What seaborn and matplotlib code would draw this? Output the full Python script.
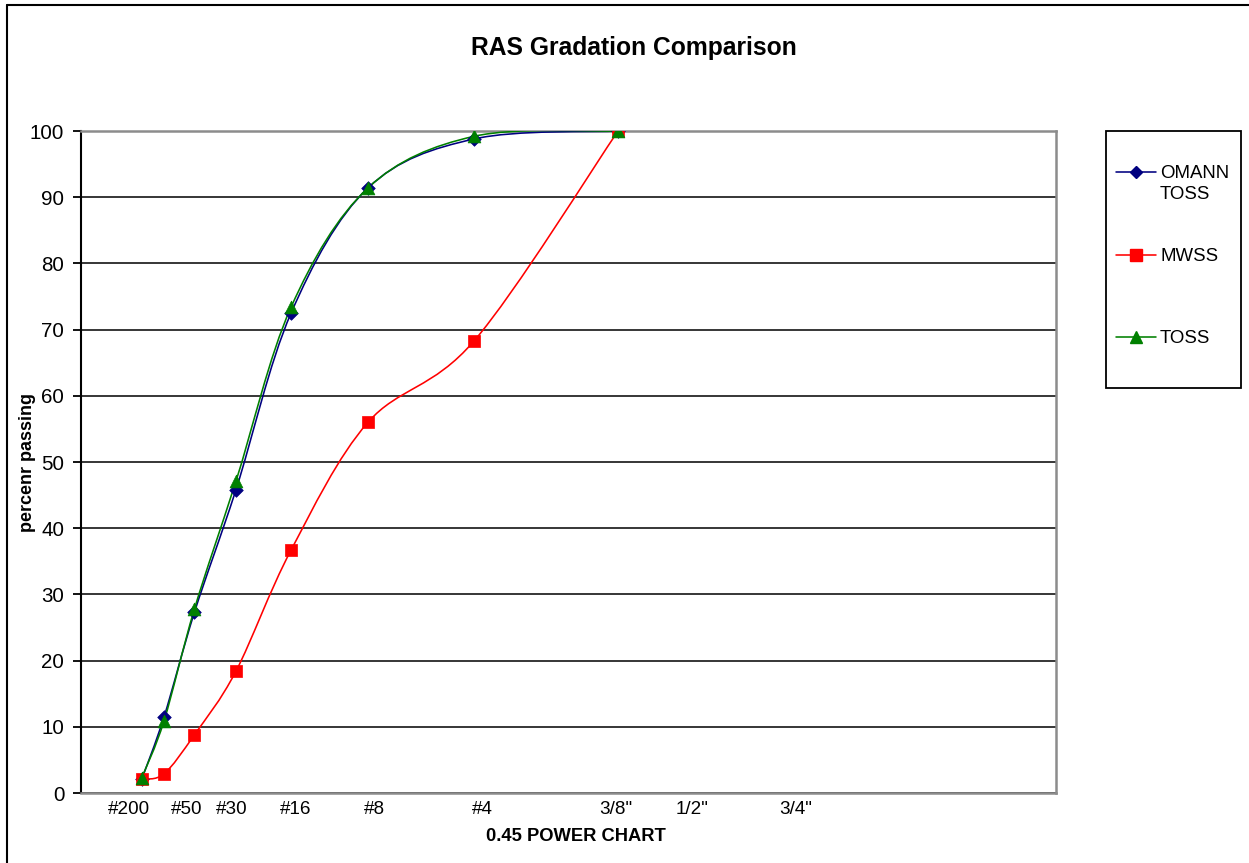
import numpy as np
import pandas as pd
import matplotlib
matplotlib.use("Agg")
import matplotlib.pyplot as plt
from matplotlib.path import Path
from matplotlib.patches import PathPatch, Rectangle
from matplotlib.lines import Line2D
import seaborn as sns

# ---- data ----
sieve_mm = [0.075, 0.15, 0.3, 0.6, 1.18, 2.36, 4.75, 9.5]
omann_toss = [2.1, 11.5, 27.3, 45.8, 72.5, 91.4, 98.8, 100.0]
mwss = [2.1, 2.9, 8.8, 18.4, 36.7, 56.0, 68.3, 100.0]
toss = [2.3, 10.9, 27.8, 47.1, 73.4, 91.4, 99.2, 100.0]
series_names = ["OMANN\nTOSS", "MWSS", "TOSS"]
series_colors = ["#000080", "#FF0000", "#008000"]
series_markers = ["D", "s", "^"]
tick_labels = ["#200", "#50", "#30", "#16", "#8", "#4", '3/8"', '1/2"', '3/4"']
tick_pos = [0.245, 0.543, 0.774, 1.100, 1.505, 2.060, 2.744, 3.134, 3.667]
power = 0.45

x = [s ** power for s in sieve_mm]
df = pd.DataFrame({
    "x": x * 3,
    "y": omann_toss + mwss + toss,
    "series": sum([[n] * len(x) for n in series_names], []),
})

sns.set_theme(style="white")
plt.rcParams["font.family"] = ["Liberation Sans", "DejaVu Sans"]
for k in ["text.color", "axes.labelcolor", "xtick.color", "ytick.color"]:
    plt.rcParams[k] = "black"

W, H = 1249, 863
L, R, T, B = 81, 1056, 131, 793
fig = plt.figure(figsize=(W / 100, H / 100), dpi=100)
ax = fig.add_axes([L / W, 1 - B / H, (R - L) / W, (B - T) / H])


def smooth_path(xs, ys):
    P = np.column_stack([xs, ys])
    n = len(P)
    verts = [P[0]]
    codes = [Path.MOVETO]
    for i in range(n - 1):
        p0 = P[i - 1] if i > 0 else P[i]
        p1, p2 = P[i], P[i + 1]
        p3 = P[i + 2] if i + 2 < n else P[i + 1]
        verts += [p1 + (p2 - p0) / 6.0, p2 - (p3 - p1) / 6.0, p2]
        codes += [Path.CURVE4] * 3
    return Path(verts, codes)


sizes = {"D": 48, "s": 72, "^": 85}
for name, col, mk in zip(series_names, series_colors, series_markers):
    sub = df[df.series == name]
    ax.add_patch(PathPatch(smooth_path(sub.x.values, sub.y.values), fill=False,
                           edgecolor=col, lw=1.15, zorder=3))
    sns.scatterplot(data=sub, x="x", y="y", color=col, marker=mk, s=sizes[mk],
                    edgecolor=col, linewidth=0.5, ax=ax, zorder=4, legend=False)

ax.set_xlim(0.0, 5.0)
ax.set_ylim(0, 100)
ax.set_yticks(range(0, 101, 10))
ax.yaxis.grid(True, color="black", lw=1.1)
ax.xaxis.grid(False)
ax.set_xticks(tick_pos)
ax.set_xticklabels(tick_labels)
ax.tick_params(axis="x", length=0, pad=6, labelsize=13.6)
ax.tick_params(axis="y", left=True, length=5.5, width=1.3, color="black",
               direction="out", pad=6.5, labelsize=14.8)
for s in ["top", "right", "bottom"]:
    ax.spines[s].set_color("#8c8c8c")
    ax.spines[s].set_linewidth(1.8)
ax.spines["left"].set_color("black")
ax.spines["left"].set_linewidth(1.5)

ax.set_xlabel("0.45 POWER CHART", fontsize=13.2, fontweight="bold")
ax.xaxis.set_label_coords((576 - L) / (R - L), -0.053)
ax.set_ylabel("percenr passing", fontsize=13, fontweight="bold")
ax.yaxis.set_label_coords((36 - L) / (R - L), 0.5)
ax.set_title("RAS Gradation Comparison", fontsize=17.7, fontweight="bold",
             x=(634 - L) / (R - L), y=1.115, pad=0)

# legend box (drawn as in the original chart)
leg_rows = [172, 255, 337]
fig.add_artist(Rectangle((1106 / W, 1 - 388 / H), 135 / W, 257 / H,
                         transform=fig.transFigure, fill=False,
                         edgecolor="black", lw=1.3))
for yy, name, col, mk, ms in zip(leg_rows, series_names, series_colors,
                                 series_markers, [6.0, 8.0, 9.0]):
    fig.add_artist(Line2D(np.array([1116, 1136, 1156]) / W, [1 - yy / H] * 3,
                          color=col, lw=1.15, marker=mk, markersize=ms,
                          markevery=[1], markeredgecolor=col,
                          transform=fig.transFigure))
    fig.text(1160 / W, 1 - (yy - 7) / H, name, fontsize=13.4, va="top",
             ha="left", linespacing=1.33)

# outer chart border
fig.add_artist(Line2D([7 / W, 7 / W], [0, 1 - 5 / H], color="black",
                      lw=1.5, transform=fig.transFigure))
fig.add_artist(Line2D([7 / W, 1], [1 - 5 / H, 1 - 5 / H], color="black",
                      lw=1.5, transform=fig.transFigure))

fig.savefig("out.png", dpi=100)
